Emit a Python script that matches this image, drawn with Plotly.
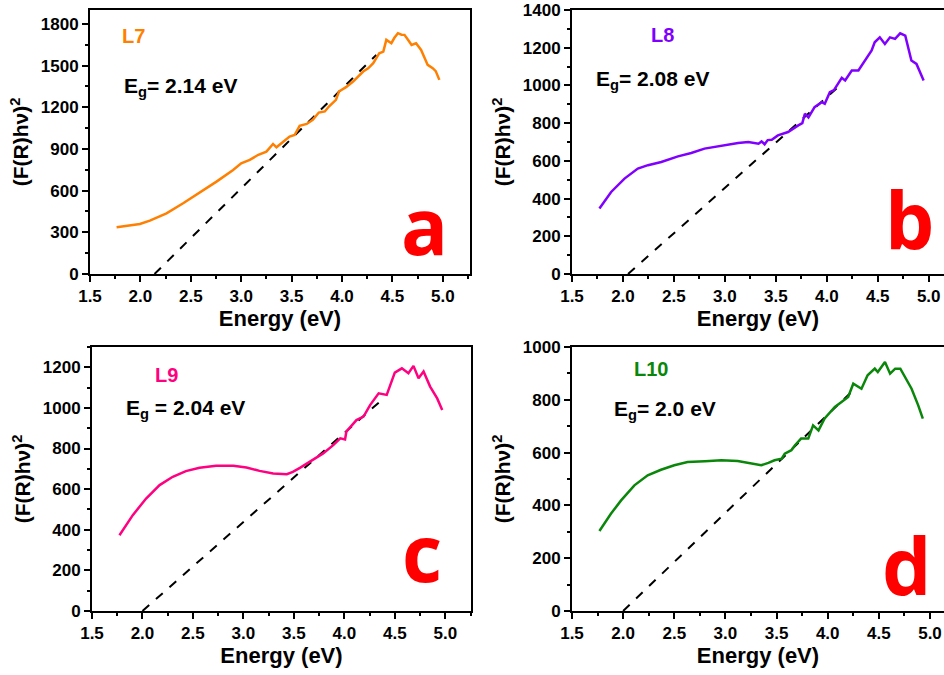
import plotly.graph_objects as go

# ---------------- data ----------------
l7_x = [1.764, 1.85, 1.929, 1.995, 2.094, 2.259, 2.424, 2.59, 2.755, 2.92, 3.0, 3.085, 3.17, 3.25, 3.316, 3.35,
        3.42, 3.48, 3.53, 3.58, 3.65, 3.71, 3.77, 3.83, 3.87, 3.94, 3.97, 4.04, 4.11, 4.16, 4.21, 4.26, 4.31, 4.37,
        4.41, 4.44, 4.49, 4.52, 4.555, 4.59, 4.62, 4.66, 4.69, 4.735, 4.785, 4.85, 4.90, 4.93, 4.966]
l7_y = [336, 345, 353, 360, 384, 437, 509, 586, 665, 749, 797, 821, 858, 881, 936, 912,
        950, 989, 1000, 1066, 1080, 1109, 1162, 1170, 1205, 1253, 1313, 1345, 1385, 1420, 1457, 1480, 1517, 1589,
        1600, 1685, 1661, 1700, 1733, 1722, 1721, 1680, 1649, 1661, 1613, 1505, 1481, 1460, 1397]
l7_fit_x = [2.14, 4.34]
l7_fit_y = [0, 1577]

l8_x = [1.769, 1.884, 2.015, 2.146, 2.245, 2.376, 2.54, 2.67, 2.80, 2.966, 3.13, 3.23, 3.33, 3.36, 3.39, 3.42,
        3.46, 3.52, 3.62, 3.72, 3.76, 3.785, 3.82, 3.88, 3.95, 3.98, 4.03, 4.07, 4.11, 4.147, 4.18, 4.245, 4.31,
        4.375, 4.44, 4.47, 4.52, 4.57, 4.62, 4.67, 4.72, 4.77, 4.80, 4.83, 4.88, 4.95]
l8_y = [347, 435, 506, 559, 577, 594, 624, 642, 665, 682, 695, 700, 691, 703, 688, 710,
        712, 735, 753, 788, 800, 850, 830, 885, 911, 903, 964, 975, 1008, 1040, 1026, 1079, 1079,
        1132, 1185, 1229, 1255, 1220, 1255, 1247, 1276, 1264, 1200, 1132, 1114, 1026]
l8_fit_x = [2.05, 4.147]
l8_fit_y = [0, 1008]

l9_x = [1.772, 1.904, 2.036, 2.17, 2.30, 2.43, 2.566, 2.73, 2.90, 3.03, 3.16, 3.295, 3.43, 3.49, 3.56, 3.69,
        3.79, 3.89, 3.96, 4.007, 4.02, 4.12, 4.19, 4.255, 4.34, 4.42, 4.47, 4.50, 4.57, 4.635, 4.685, 4.735,
        4.785, 4.85, 4.92, 4.97]
l9_y = [373, 472, 554, 620, 661, 689, 705, 715, 715, 707, 690, 677, 674, 685, 705, 743,
        776, 817, 850, 845, 883, 940, 957, 1014, 1072, 1064, 1130, 1174, 1195, 1171, 1207, 1146,
        1179, 1105, 1047, 990]
l9_fit_x = [2.0, 4.37]
l9_fit_y = [0, 1039]

l10_x = [1.768, 1.882, 1.98, 2.11, 2.24, 2.37, 2.50, 2.63, 2.80, 2.96, 3.12, 3.22, 3.35, 3.42, 3.48, 3.55,
         3.58, 3.645, 3.68, 3.74, 3.81, 3.857, 3.91, 3.97, 4.07, 4.135, 4.2, 4.25, 4.33, 4.39, 4.46, 4.49,
         4.56, 4.61, 4.66, 4.71, 4.755, 4.82, 4.885, 4.93]
l10_y = [303, 369, 419, 476, 514, 535, 552, 564, 567, 571, 568, 561, 552, 561, 571, 577,
         596, 609, 628, 653, 653, 703, 684, 729, 773, 792, 811, 861, 842, 893, 918, 905,
         943, 899, 918, 918, 886, 842, 779, 729]
l10_fit_x = [2.0, 4.265]
l10_fit_y = [0, 842]

names = ["L7", "L8", "L9", "L10"]
colors = ["#FF7F00", "#8000FF", "#FF0080", "#0A870A"]
eg_texts = ["E<sub>g</sub>= 2.14 eV", "E<sub>g</sub>= 2.08 eV", "E<sub>g</sub> = 2.04 eV", "E<sub>g</sub>= 2.0 eV"]
letters = ["a", "b", "c", "d"]
y_ranges = [[0, 1900], [0, 1400], [0, 1300], [0, 1000]]
y_dticks = [300, 200, 200, 200]
x_ranges = [[1.5, 5.27], [1.5, 5.15], [1.5, 5.255], [1.5, 5.137]]

xs = [l7_x, l8_x, l9_x, l10_x]
ys = [l7_y, l8_y, l9_y, l10_y]
fxs = [l7_fit_x, l8_fit_x, l9_fit_x, l10_fit_x]
fys = [l7_fit_y, l8_fit_y, l9_fit_y, l10_fit_y]

# ---------------- layout geometry ----------------
W, H = 944, 675
x_domains = [[90 / W, 470 / W], [572 / W, 1.0], [92 / W, 471 / W], [572 / W, 1.0]]
y_domains = [[1 - 274 / H, 1 - 10 / H], [1 - 274 / H, 1 - 10 / H], [1 - 611 / H, 1 - 347 / H], [1 - 611 / H, 1 - 347 / H]]

FONT = "Liberation Sans, Arial, sans-serif"

fig = go.Figure()
for i in range(4):
    xa = "x" if i == 0 else f"x{i+1}"
    ya = "y" if i == 0 else f"y{i+1}"
    fig.add_trace(go.Scatter(x=fxs[i], y=fys[i], mode="lines", xaxis=xa, yaxis=ya,
                             line=dict(color="black", width=2, dash="dash"), showlegend=False))
    fig.add_trace(go.Scatter(x=xs[i], y=ys[i], mode="lines", xaxis=xa, yaxis=ya,
                             line=dict(color=colors[i], width=2.5, shape="linear"), showlegend=False))

layout = dict(width=W, height=H, margin=dict(l=0, r=0, t=0, b=0, autoexpand=False),
              plot_bgcolor="white", paper_bgcolor="white",
              font=dict(family=FONT, color="black", size=17, weight="bold"))
annotations = []
for i in range(4):
    sfx = "" if i == 0 else str(i + 1)
    full_right = i in (1, 3)
    layout["xaxis" + sfx] = dict(
        domain=x_domains[i], range=x_ranges[i], anchor="y" + sfx, automargin=False,
        showline=True, linecolor="black", linewidth=2, mirror=True,
        ticks="outside", ticklen=6, tickwidth=2, tickcolor="black",
        dtick=0.5, tick0=1.5, tickformat=".1f", showgrid=False, zeroline=False,
        minor=dict(ticks="outside", ticklen=3, tickwidth=1.5, tickcolor="black", dtick=0.25, tick0=1.5, showgrid=False),
        tickfont=dict(family=FONT, size=17, color="black", weight="bold"),
        title=dict(text="Energy (eV)", font=dict(family=FONT, size=22, color="black", weight="bold"), standoff=3),
    )
    layout["yaxis" + sfx] = dict(
        domain=y_domains[i], range=y_ranges[i], anchor="x" + sfx, automargin=False,
        showline=True, linecolor="black", linewidth=2, mirror=False if full_right else True,
        ticks="outside", ticklen=6, tickwidth=2, tickcolor="black",
        dtick=y_dticks[i], tick0=0, showgrid=False, zeroline=False,
        minor=dict(ticks="outside", ticklen=3, tickwidth=1.5, tickcolor="black", dtick=y_dticks[i] / 2, showgrid=False),
        tickfont=dict(family=FONT, size=17, color="black", weight="bold"),
        title=dict(text="(F(R)hν)<sup>2</sup>", font=dict(family=FONT, size=21, color="black", weight="bold"), standoff=6),
    )

label_pos = [(0.08, 0.90), (0.207, 0.905), (0.161, 0.894), (0.161, 0.917)]
eg_pos = [(0.084, 0.71), (0.059, 0.735), (0.084, 0.765), (0.108, 0.761)]
letter_pos = [(0.88, 0.185), (0.906, 0.21), (0.871, 0.225), (0.90, 0.175)]
for i in range(4):
    xr = "x domain" if i == 0 else f"x{i+1} domain"
    yr = "y domain" if i == 0 else f"y{i+1} domain"
    annotations.append(dict(xref=xr, yref=yr, x=label_pos[i][0], y=label_pos[i][1], text=names[i],
                            showarrow=False, xanchor="left", yanchor="middle",
                            font=dict(family=FONT, size=20, color=colors[i], weight="bold")))
    annotations.append(dict(xref=xr, yref=yr, x=eg_pos[i][0], y=eg_pos[i][1], text=eg_texts[i],
                            showarrow=False, xanchor="left", yanchor="middle",
                            font=dict(family=FONT, size=21, color="black", weight="bold")))
    annotations.append(dict(xref=xr, yref=yr, x=letter_pos[i][0], y=letter_pos[i][1], text=letters[i],
                            showarrow=False, xanchor="center", yanchor="middle",
                            font=dict(family="Open Sans, sans-serif", size=78, color="#FF0000", weight="bold")))
layout["annotations"] = annotations
fig.update_layout(**layout)

fig.write_html("out.html")
